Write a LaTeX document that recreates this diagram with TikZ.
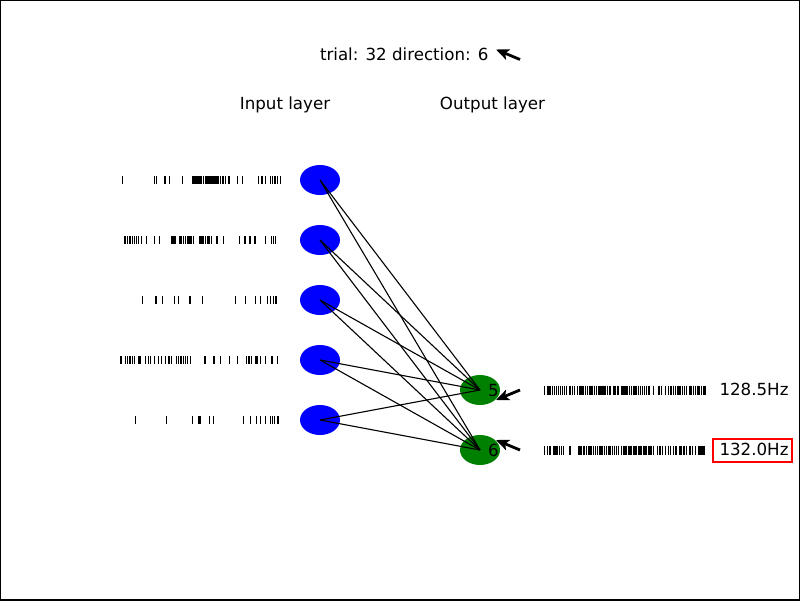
\documentclass[tikz,border=0pt]{standalone}
\usepackage{fontspec}
\setmainfont{DejaVu Sans}
\usetikzlibrary{shapes,arrows.meta,positioning}

\definecolor{mplgreen}{RGB}{0,128,0}

\begin{document}
\begin{tikzpicture}[x=1pt,y=-1pt,every node/.style={inner sep=0pt,outer sep=0pt}]
\tikzstyle{neuronin}=[ellipse,fill=blue,minimum width=40pt,minimum height=30pt]
\tikzstyle{neuronout}=[ellipse,fill=mplgreen,minimum width=40pt,minimum height=30pt]
\tikzstyle{lbl}=[font=\fontsize{16.67}{20}\selectfont,anchor=base west]
\tikzstyle{synapse}=[line width=1.1pt]
\tikzstyle{spike}=[line width=1.1pt]
\tikzstyle{dirarrow}=[line width=2.8pt,-{Stealth[length=13pt,width=11pt,inset=3pt]}]
%
\useasboundingbox (0,0) rectangle (800,600);
\draw [line width=2pt] (0,0) rectangle (800,600);
%
\node (title) [lbl] at (320,60) {trial: 32 direction: 6};
\coordinate (ttail) at (520,59.5);
\coordinate (ttip) at (496,49.5);
\draw [dirarrow] (ttail) -- (ttip);
\node (inlayer) [lbl,anchor=base] at (285,109) {Input layer};
\node (outlayer) [lbl,anchor=base] at (492.5,109) {Output layer};
%
\foreach \i/\y in {1/180,2/240,3/300,4/360,5/420}
  \node (in\i) [neuronin] at (320,\y) {};
\node (out5) [neuronout] at (480,390) {};
\node (out6) [neuronout] at (480,450) {};
\foreach \i in {1,...,5}
  \foreach \o in {5,6}
    \draw [synapse] (in\i.center) -- (out\o.center);
\node (lab5) [lbl] at (488,396) {5};
\node (lab6) [lbl] at (488,456) {6};
%
% input spike trains
\foreach \y/\ts in {
  180/{122.3,154.3,156.7,165,169.3,182.3,192.3,194,196,198,200,201.7,203.3,205.3,207,208.7,210,212,213,214,215,216,217,218.7,220.7,223,225.7,229,237.7,242.3,258.7,262,265.3,270.3,272.7,275,277.3,280.7},
  240/{125,127.3,130,132.3,134.3,136.3,138.3,141.7,146.3,154.3,159.3,171.3,173,175,180,181.7,183.7,185.3,187.3,189,190,191.3,193.3,200,202,203.7,205.7,208,209.7,211.7,217,223.3,239.3,245,250,255,265.7,271.3,273.3,275.7},
  300/{142.3,156,162.7,174.3,178.3,190,202.3,235.3,245.3,255.3,260.3,267.7,270.3,273.3,276},
  360/{121,125.3,127.7,130,132.3,134.7,138.3,140,145.7,148.3,150.7,154.3,158.3,161.7,165.7,169,171.3,176.7,178.7,181,183.3,185.3,187.7,190.3,205,214,220.7,229.3,237.3,246.7,249,251.3,255.7,257,260.7,265.3,272,277.3},
  420/{135.3,166.3,192.3,198.3,200,209.7,213.3,243.7,250.3,256.7,260.7,265.7,270.3,272.7,274.3,277.3,278.7}}
  \foreach \x in \ts
    \draw [spike] (\x,\y-4) -- (\x,\y+4);
%
% output spike trains
\foreach \y/\ts in {
  390/{544.7,548,550,552.3,554.7,556.3,558.3,560.7,562.7,564.3,566.7,570,572.7,574.7,577.7,579.3,580.5,581.7,583,585.3,587.3,589.3,591,592.7,594.3,596.7,598.7,600,602,604,605.7,607.7,610,614,615.5,617.3,618.7,622,624,626,627.3,629.3,631.7,633.3,635,636.7,638.7,640.7,642.7,644.3,646.7,649,653.3,659,661.3,665.3,668.3,671,673.3,675.7,678,680,682.3,684.3,686.7,690,691.7,693.3,695.3,697.3,699,701.3,703.3,705},
  450/{544.3,547.3,550,554,556,557.7,559.3,561.3,563.3,570,579,581,584,586.7,589,591,593.3,595.7,597.3,600,602,604.3,606.7,609,610.7,612.7,614.7,616.7,618.7,621.7,623.3,625,626.7,628.3,630,631.7,633.3,635,636.7,638.3,640,641.7,643.3,645,646.7,648.3,650,651.7,653.3,657.3,660,662.7,665.7,668.3,670.7,673.3,676,679.3,681,684,686.7,690,692.7,695.3,698.3,700,702,704}}
  \foreach \x in \ts
    \draw [spike] (\x,\y-4.5) -- (\x,\y+4.5);
%
\coordinate (tail5) at (520,390);
\coordinate (tip5) at (496,400);
\draw [dirarrow] (tail5) -- (tip5);
\coordinate (tail6) at (520,450);
\coordinate (tip6) at (496,440);
\draw [dirarrow] (tail6) -- (tip6);
%
\node (rate5) [lbl] at (719.5,395) {128.5Hz};
\node (rate6) [lbl] at (719.5,455) {132.0Hz};
\draw [red,line width=2pt] (712.5,438.5) rectangle (792,462);
\end{tikzpicture}
\end{document}
